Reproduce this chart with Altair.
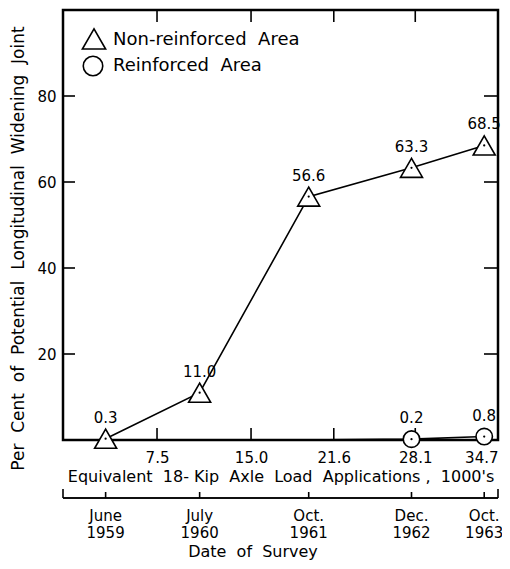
import altair as alt
import pandas as pd

# ---- data ----
survey_x = [3.4, 10.9, 19.6, 27.8, 33.6]          # survey dates on the load scale (1000's)
survey_labels = ["June\n1959", "July\n1960", "Oct.\n1961", "Dec.\n1962", "Oct.\n1963"]
nonreinforced = [0.3, 11.0, 56.6, 63.3, 68.5]
reinforced_x = [27.8, 33.6]
reinforced = [0.2, 0.8]
reinforced_line_x = [18.8, 27.8, 33.6]
reinforced_line = [0.0, 0.2, 0.8]
load_ticks = [7.5, 15.0, 21.6, 28.1, 34.7]
inner_load_ticks = [7.5, 15.0, 21.6, 28.1]
survey_axis_ends = [0.0, 34.7]
pct_ticks = [20, 40, 60, 80]
NB = "\u00a0"
series_names = ["Non-reinforced" + NB + " Area", "Reinforced" + NB + " Area"]
series_shapes = ["triangle-up", "circle"]

FONT = "DejaVu Sans"
W, H = 435, 430


def spaced(words):
    return (NB + " ").join(words)


xs = alt.Scale(domain=[0, 34.7], nice=False, zero=False)
ys = alt.Scale(domain=[0, 100], nice=False, zero=False)

line_nr = pd.DataFrame({"x": survey_x, "y": nonreinforced})
line_r = pd.DataFrame({"x": reinforced_line_x, "y": reinforced_line})
tri = pd.DataFrame({"x": survey_x, "y": nonreinforced})
cir = pd.DataFrame({"x": reinforced_x, "y": reinforced})
pts = pd.concat([tri, cir], ignore_index=True)
pts["label"] = pts["y"].map(lambda v: f"{v:.1f}")

x_axis = alt.Axis(values=load_ticks, format=".1f", ticks=False, domain=False, grid=False,
                  labelFontSize=15, labelPadding=10, labelFlush=True, labelFont=FONT,
                  labelColor="black",
                  title=spaced(["Equivalent", "18-" + NB + "Kip", "Axle", "Load",
                                "Applications" + NB + ",", "1000's"]),
                  titleFont=FONT, titleFontSize=16, titleFontWeight="normal",
                  titlePadding=3, titleColor="black")
y_axis = alt.Axis(values=pct_ticks, ticks=False, domain=False, grid=False,
                  labelFontSize=15, labelPadding=7, labelFont=FONT, labelColor="black",
                  title=spaced(["Per", "Cent", "of", "Potential", "Longitudinal",
                                "Widening", "Joint"]),
                  titleFont=FONT, titleFontSize=17, titleFontWeight="normal",
                  titlePadding=9, titleColor="black", titleY=238)

X = alt.X("x:Q", scale=xs)
Y = alt.Y("y:Q", scale=ys)

l1 = alt.Chart(line_nr).mark_line(color="black", strokeWidth=1.6).encode(
    x=alt.X("x:Q", scale=xs, axis=x_axis),
    y=alt.Y("y:Q", scale=ys, axis=y_axis),
)
l2 = alt.Chart(line_r).mark_line(color="black", strokeWidth=1.6).encode(x=X, y=Y)

m_tri = alt.Chart(tri).mark_point(shape="triangle-up", filled=True, fill="white",
                                  stroke="black", strokeWidth=1.6, opacity=1, size=484).encode(
    x=X, y=Y)
m_cir = alt.Chart(cir).mark_point(shape="circle", filled=True, fill="white",
                                  stroke="black", strokeWidth=1.6, opacity=1, size=270).encode(
    x=X, y=Y)
dots = alt.Chart(pts).mark_point(filled=True, color="black", size=5, opacity=1).encode(x=X, y=Y)
labels = alt.Chart(pts).mark_text(font=FONT, fontSize=15, dy=-21, color="black").encode(
    x=X, y=Y, text="label:N")

# key (legend) in the upper-left corner
key_df = pd.DataFrame({"name": series_names})
key_tri = alt.Chart(key_df.iloc[[0]]).mark_point(
    shape=series_shapes[0], filled=False, stroke="black", strokeWidth=1.6, opacity=1,
    size=540).encode(x=alt.value(31), y=alt.value(29))
key_cir = alt.Chart(key_df.iloc[[1]]).mark_point(
    shape=series_shapes[1], filled=False, stroke="black", strokeWidth=1.6, opacity=1,
    size=380).encode(x=alt.value(30), y=alt.value(56))
key_t1 = alt.Chart(key_df.iloc[[0]]).mark_text(
    font=FONT, fontSize=18, align="left", baseline="middle", color="black").encode(
    x=alt.value(50), y=alt.value(30), text="name:N")
key_t2 = alt.Chart(key_df.iloc[[1]]).mark_text(
    font=FONT, fontSize=18, align="left", baseline="middle", color="black").encode(
    x=alt.value(50), y=alt.value(56), text="name:N")

# inward frame ticks
xt = pd.DataFrame({"x": inner_load_ticks})
yt = pd.DataFrame({"y": pct_ticks})
tick_top = alt.Chart(xt).mark_rule(color="black", strokeWidth=1.6).encode(
    x=X, y=alt.value(0), y2=alt.value(12))
tick_bot = alt.Chart(xt).mark_rule(color="black", strokeWidth=1.6).encode(
    x=X, y=alt.value(H), y2=alt.value(H - 12))
tick_left = alt.Chart(yt).mark_rule(color="black", strokeWidth=1.6).encode(
    y=Y, x=alt.value(0), x2=alt.value(12))
tick_right = alt.Chart(yt).mark_rule(color="black", strokeWidth=1.6).encode(
    y=Y, x=alt.value(W - 14), x2=alt.value(W))

# date-of-survey scale below
DATE_LINE = 488
sd = pd.DataFrame({"x": survey_x, "label": survey_labels})
se = pd.DataFrame({"x": survey_axis_ends})
date_line = alt.Chart(se).mark_rule(color="black", strokeWidth=1.6).encode(
    x=alt.value(0), x2=alt.value(W), y=alt.value(DATE_LINE))
date_ticks = alt.Chart(sd).mark_rule(color="black", strokeWidth=1.6).encode(
    x=X, y=alt.value(DATE_LINE - 6), y2=alt.value(DATE_LINE))
end_ticks = alt.Chart(se).mark_rule(color="black", strokeWidth=1.6).encode(
    x=X, y=alt.value(DATE_LINE - 9), y2=alt.value(DATE_LINE))
date_labels = alt.Chart(sd).mark_text(font=FONT, fontSize=15, lineBreak="\n", lineHeight=17,
                                      baseline="top", color="black").encode(
    x=X, y=alt.value(DATE_LINE + 11), text="label:N")
date_title = alt.Chart(pd.DataFrame({"t": [spaced(["Date", "of", "Survey"])]})).mark_text(
    font=FONT, fontSize=16, baseline="middle", color="black").encode(
    x=alt.value(190), y=alt.value(DATE_LINE + 54), text="t:N")

chart = alt.layer(
    l1, l2, tick_top, tick_bot, tick_left, tick_right,
    m_tri, m_cir, dots, labels,
    key_tri, key_cir, key_t1, key_t2,
    date_line, date_ticks, end_ticks, date_labels, date_title,
).properties(
    width=W, height=H,
    autosize=alt.AutoSizeParams(type="none"),
    padding={"left": 55, "top": 2, "right": 4, "bottom": 120},
).configure_view(stroke="black", strokeWidth=2.5)

chart.save("out.html", embed_options={"renderer": "svg", "actions": False})
